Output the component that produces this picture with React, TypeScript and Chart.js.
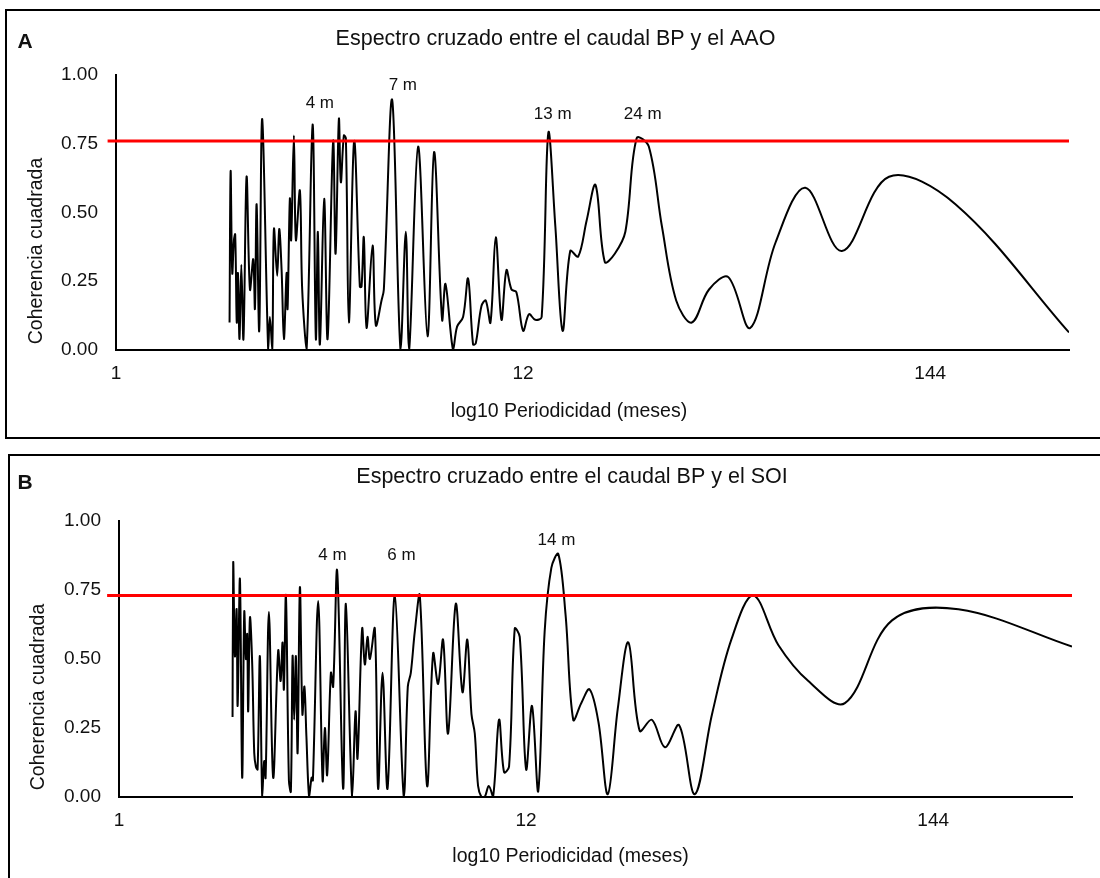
import React, { useEffect, useRef } from 'react';
import { Chart, registerables } from 'chart.js';

Chart.register(...registerables);

const FONT = '"Liberation Sans", Arial, Helvetica, sans-serif';

// Shared axis settings
const xTickValues = [1, 12, 144];
const periodMin = 1;
const periodMax = 336;

// Panel A: coherence BP flow vs AAO
const periodsA = [
  2.0, 2.013, 2.033, 2.054, 2.07, 2.09, 2.105, 2.125, 2.149, 2.177, 2.219, 2.265, 2.311, 2.335, 2.359, 2.397,
  2.441, 2.532, 2.558, 2.595, 2.622, 2.675, 2.708, 2.748, 2.787, 2.833, 2.85, 2.89, 2.913, 2.962, 2.998, 3.072,
  3.116, 3.2, 3.32, 3.387, 3.429, 3.471, 3.563, 3.638, 3.764, 3.82, 3.898, 3.945, 4.018, 4.068, 4.143, 4.279,
  4.43, 4.476, 4.539, 4.615, 4.787, 4.884, 5.057, 5.129, 5.395, 5.679, 5.865, 5.984, 6.322, 6.695, 6.97, 7.319,
  7.472, 7.827, 8.02, 8.319, 8.577, 8.842, 8.989, 9.307, 9.554, 9.832, 10.155, 10.515, 10.84, 11.18, 11.52,
  12, 12.44, 12.92, 13.44, 14, 14.61, 15.27, 16, 16.8, 17.68, 18.67, 19.76, 21, 22.4, 24, 25.85, 28, 30.55,
  33.6, 37.33, 42, 48, 56, 67.2, 84, 112, 168, 336,
];
const coherenceA = [
  0.1, 0.65, 0.28, 0.4, 0.42, 0.1, 0.28, 0.04, 0.31, 0.04, 0.63, 0.22, 0.33, 0.15, 0.53, 0.07,
  0.84, 0.0, 0.12, 0.0, 0.44, 0.27, 0.44, 0.29, 0.04, 0.28, 0.15, 0.55, 0.4, 0.78, 0.4, 0.58,
  0.22, 0.0, 0.82, 0.04, 0.43, 0.02, 0.55, 0.04, 0.76, 0.35, 0.84, 0.61, 0.78, 0.77, 0.1, 0.76,
  0.23, 0.23, 0.41, 0.08, 0.38, 0.09, 0.18, 0.22, 0.91, 0.0, 0.43, 0.0, 0.74, 0.05, 0.72, 0.11,
  0.24, 0.0, 0.085, 0.12, 0.26, 0.02, 0.024, 0.16, 0.18, 0.1, 0.41, 0.11, 0.29, 0.22, 0.21,
  0.07, 0.13, 0.11, 0.12, 0.79, 0.45, 0.07, 0.36, 0.34, 0.47, 0.6, 0.32, 0.35, 0.43, 0.77, 0.74, 0.45, 0.18,
  0.1, 0.22, 0.265, 0.08, 0.39, 0.59, 0.36, 0.63, 0.53, 0.064,
];
const thresholdA = 0.76;
const thresholdStartA = 0.95;
const peakNamesA = ['4 m', '7 m', '13 m', '24 m'];
const peakPeriodsA = [3.47, 5.76, 14.38, 24.9];
const peakValuesA = [0.898, 0.964, 0.858, 0.858];

// Panel B: coherence BP flow vs SOI
const periodsB = [
  2.0, 2.008, 2.029, 2.05, 2.063, 2.092, 2.121, 2.148, 2.17, 2.187, 2.2, 2.224, 2.255, 2.283, 2.306, 2.33,
  2.363, 2.397, 2.426, 2.447, 2.497, 2.563, 2.642, 2.682, 2.714, 2.736, 2.77, 2.821, 2.855, 2.885, 2.913, 2.944,
  2.975, 3.017, 3.063, 3.101, 3.139, 3.192, 3.24, 3.266, 3.373, 3.465, 3.514, 3.563, 3.645, 3.696, 3.787, 3.928,
  3.994, 4.15, 4.237, 4.289, 4.411, 4.484, 4.559, 4.624, 4.766, 4.863, 4.996, 5.15, 5.385, 5.689, 5.829, 5.937,
  6.084, 6.272, 6.558, 6.803, 7.013, 7.23, 7.454, 7.812, 8.138, 8.38, 8.598, 8.773, 8.951, 9.138, 9.324, 9.554,
  9.809, 10.174, 10.489, 10.814, 11.197, 11.544,
  12, 12.44, 12.92, 13.44, 14, 14.61, 15.27, 16, 16.8, 17.68, 18.67, 19.76, 21, 22.4, 24, 25.85, 28, 30.55,
  33.6, 37.33, 42, 48, 56, 67.2, 84, 112, 168, 336,
];
const coherenceB = [
  0.29, 0.85, 0.51, 0.68, 0.33, 0.79, 0.07, 0.67, 0.5, 0.59, 0.31, 0.65, 0.48, 0.16, 0.11, 0.1,
  0.51, 0.0, 0.13, 0.07, 0.67, 0.07, 0.53, 0.42, 0.56, 0.39, 0.73, 0.06, 0.02, 0.51, 0.28, 0.51,
  0.16, 0.76, 0.3, 0.4, 0.22, 0.0, 0.07, 0.06, 0.71, 0.06, 0.25, 0.08, 0.45, 0.4, 0.82, 0.03,
  0.7, 0.0, 0.31, 0.14, 0.61, 0.48, 0.58, 0.5, 0.61, 0.03, 0.45, 0.03, 0.73, 0.0, 0.4, 0.45,
  0.6, 0.73, 0.04, 0.52, 0.41, 0.57, 0.23, 0.7, 0.38, 0.57, 0.3, 0.23, 0.04, 0.0, 0.0, 0.04,
  0.0, 0.28, 0.09, 0.11, 0.61, 0.58,
  0.1, 0.33, 0.02, 0.6, 0.83, 0.88, 0.66, 0.28, 0.34, 0.39, 0.27, 0.01, 0.32, 0.56, 0.24, 0.28, 0.18, 0.26,
  0.01, 0.3, 0.57, 0.73, 0.55, 0.42, 0.34, 0.64, 0.68, 0.545,
];
const thresholdB = 0.73;
const thresholdStartB = 0.93;
const peakNamesB = ['4 m', '6 m', '14 m'];
const peakPeriodsB = [3.68, 5.61, 14.44];
const peakValuesB = [0.877, 0.877, 0.931];

const yTitle = 'Coherencia cuadrada';
const xTitle = 'log10 Periodicidad (meses)';

const textPlugin = {
  id: 'panelText',
  afterDraw(chart: any, _args: any, o: any) {
    const ctx = chart.ctx;
    ctx.save();
    ctx.fillStyle = '#111';
    ctx.textAlign = 'center';
    ctx.textBaseline = 'middle';
    ctx.font = `bold 21px ${FONT}`;
    ctx.fillText(o.letter, o.letterX, o.letterY);
    ctx.font = `21.5px ${FONT}`;
    ctx.fillText(o.title, o.titleX, o.titleY);
    ctx.font = `19.5px ${FONT}`;
    ctx.fillText(xTitle, o.xTitleX, o.xTitleY);
    ctx.save();
    ctx.translate(o.yTitleX, o.yTitleY);
    ctx.rotate(-Math.PI / 2);
    ctx.fillText(yTitle, 0, 0);
    ctx.restore();
    ctx.font = `17px ${FONT}`;
    const xs = chart.scales.x;
    const ys = chart.scales.y;
    o.peakNames.forEach((name: string, i: number) => {
      ctx.fillText(name, xs.getPixelForValue(o.peakPeriods[i]), ys.getPixelForValue(o.peakValues[i]));
    });
    ctx.restore();
  },
};

type Spec = {
  top: number;
  height: number;
  area: { left: number; right: number; top: number; bottom: number };
  periods: number[];
  values: number[];
  threshold: number;
  thresholdStart: number;
  text: any;
};

function SpectrumPanel({ spec }: { spec: Spec }) {
  const ref = useRef<HTMLCanvasElement | null>(null);
  useEffect(() => {
    if (!ref.current) return;
    const { area } = spec;
    const chart = new Chart(ref.current, {
      type: 'line',
      data: {
        datasets: [
          {
            data: [
              { x: spec.thresholdStart, y: spec.threshold },
              { x: periodMax, y: spec.threshold },
            ],
            borderColor: '#ff0000',
            borderWidth: 3,
            pointRadius: 0,
            tension: 0,
            clip: false,
            order: 0,
          } as any,
          {
            data: spec.periods.map((p, i) => ({ x: p, y: spec.values[i] })),
            borderColor: '#000000',
            borderWidth: 2,
            pointRadius: 0,
            tension: 0.35,
            fill: false,
            order: 1,
          } as any,
        ],
      },
      options: {
        animation: false,
        responsive: false,
        devicePixelRatio: 1,
        events: [],
        layout: {
          padding: { left: 0, right: 1100 - area.right, top: area.top, bottom: 0 },
        },
        plugins: {
          legend: { display: false },
          tooltip: { enabled: false },
          title: { display: false },
          panelText: spec.text,
        } as any,
        scales: {
          x: {
            type: 'logarithmic',
            min: periodMin,
            max: periodMax,
            grid: { display: false, drawTicks: false },
            border: { display: true, color: '#000', width: 2 },
            ticks: {
              color: '#111',
              font: { family: FONT, size: 19 },
              padding: 12,
              autoSkip: false,
              maxRotation: 0,
              callback: (v: any) => String(v),
            },
            afterBuildTicks: (scale: any) => {
              scale.ticks = xTickValues.map((v) => ({ value: v }));
            },
            afterFit: (scale: any) => {
              scale.height = spec.height - area.bottom;
            },
          },
          y: {
            type: 'linear',
            min: 0,
            max: 1,
            grid: { display: false, drawTicks: false },
            border: { display: true, color: '#000', width: 2 },
            ticks: {
              stepSize: 0.25,
              color: '#111',
              font: { family: FONT, size: 19 },
              padding: 18,
              callback: (v: any) => Number(v).toFixed(2),
            },
            afterFit: (scale: any) => {
              scale.width = area.left;
            },
          },
        },
      } as any,
      plugins: [textPlugin as any],
    });
    return () => chart.destroy();
  }, []);
  return (
    <canvas
      ref={ref}
      width={1100}
      height={spec.height}
      style={{ position: 'absolute', left: 0, top: spec.top, width: 1100, height: spec.height }}
    />
  );
}

const specA: Spec = {
  top: 0,
  height: 440,
  area: { left: 116, right: 1069, top: 75, bottom: 350 },
  periods: periodsA,
  values: coherenceA,
  threshold: thresholdA,
  thresholdStart: thresholdStartA,
  text: {
    letter: 'A', letterX: 25, letterY: 42.5,
    title: 'Espectro cruzado entre el caudal BP y el AAO', titleX: 555.5, titleY: 39.5,
    xTitleX: 569, xTitleY: 411.5,
    yTitleX: 36.5, yTitleY: 251,
    peakNames: peakNamesA, peakPeriods: peakPeriodsA, peakValues: peakValuesA,
  },
};

const specB: Spec = {
  top: 440,
  height: 438,
  area: { left: 119, right: 1072, top: 81, bottom: 357 },
  periods: periodsB,
  values: coherenceB,
  threshold: thresholdB,
  thresholdStart: thresholdStartB,
  text: {
    letter: 'B', letterX: 25, letterY: 43,
    title: 'Espectro cruzado entre el caudal BP y el SOI', titleX: 572, titleY: 37,
    xTitleX: 570.5, xTitleY: 416.5,
    yTitleX: 38.5, yTitleY: 257,
    peakNames: peakNamesB, peakPeriods: peakPeriodsB, peakValues: peakValuesB,
  },
};

export default function App() {
  return (
    <div
      style={{
        position: 'fixed', left: 0, top: 0, width: 1100, height: 878,
        overflow: 'hidden', background: '#ffffff',
      }}
    >
      <div
        style={{
          position: 'absolute', left: 5, top: 9, width: 1110, height: 430,
          border: '2px solid #000', boxSizing: 'border-box',
        }}
      />
      <div
        style={{
          position: 'absolute', left: 8, top: 454, width: 1110, height: 500,
          border: '2px solid #000', boxSizing: 'border-box',
        }}
      />
      <SpectrumPanel spec={specA} />
      <SpectrumPanel spec={specB} />
    </div>
  );
}
